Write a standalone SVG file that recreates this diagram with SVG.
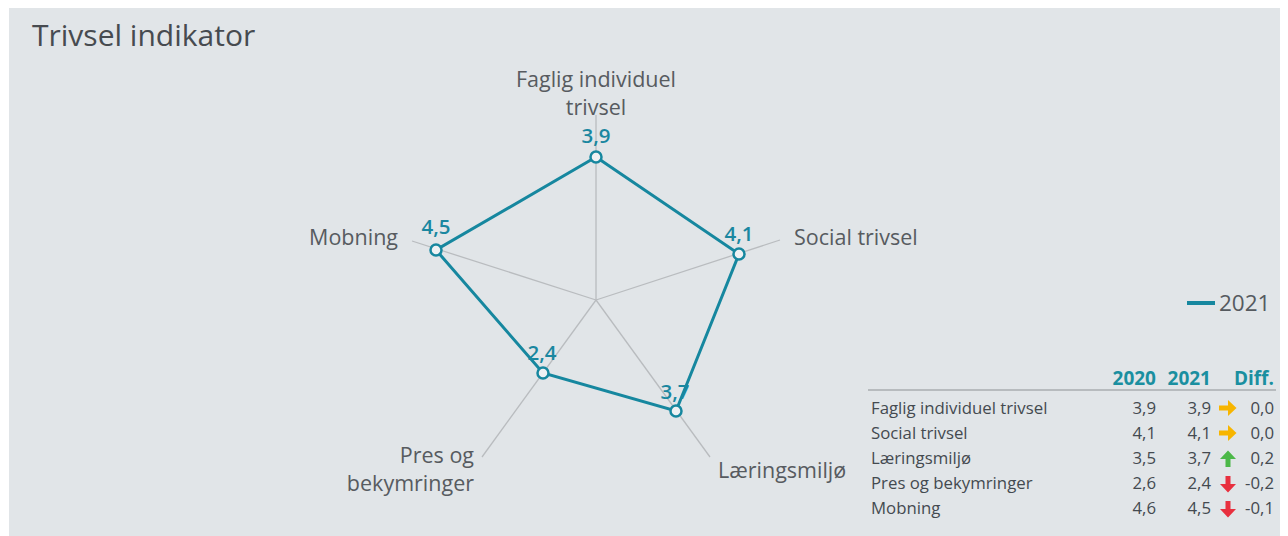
<svg xmlns="http://www.w3.org/2000/svg" width="1288" height="536" viewBox="0 0 1288 536">
<style>
.lbl{font-family:"Open Sans","Noto Sans",sans-serif;font-size:21.5px;fill:#575b60}
.val{font-family:"Open Sans","Noto Sans",sans-serif;font-size:20.5px;fill:#1a87a0;font-weight:600;text-anchor:middle}
.axis{stroke:#b9bcbf;stroke-width:1.3;fill:none}
.pt{fill:#eef1f3;stroke:#16879f;stroke-width:2.5}
.tb{font-family:"Open Sans","Noto Sans",sans-serif;font-size:16.8px;fill:#444a50}
.th{font-family:"Open Sans","Noto Sans",sans-serif;font-size:19px;fill:#1a8fa0;font-weight:700;text-anchor:end}
.num{text-anchor:end}
</style>
<rect x="0" y="0" width="1288" height="536" fill="#ffffff"/>
<rect x="9" y="8" width="1271" height="528" fill="#e1e5e8"/>
<text x="32" y="46" font-family="Open Sans, Noto Sans, sans-serif" font-size="30" fill="#474b50">Trivsel indikator</text>
<g id="axes">
<line class="axis" x1="596" y1="300" x2="596" y2="115"/>
<line class="axis" x1="596" y1="300" x2="780" y2="240"/>
<line class="axis" x1="596" y1="300" x2="710" y2="457"/>
<line class="axis" x1="596" y1="300" x2="482" y2="457"/>
<line class="axis" x1="596" y1="300" x2="412" y2="241"/>
</g>
<g id="connectors">
<polygon points="596,157 739,254 676,411 543,373 436,250" fill="none" stroke="#16879f" stroke-width="3" stroke-linejoin="miter"/>
</g>
<g id="node-faglig">
<text class="lbl" x="596" y="87" text-anchor="middle">Faglig individuel</text>
<text class="lbl" x="596" y="115" text-anchor="middle">trivsel</text>
<circle class="pt" cx="596" cy="157" r="5.5"/>
<text class="val" x="596" y="143">3,9</text>
</g>
<g id="node-social">
<text class="lbl" x="794" y="245">Social trivsel</text>
<circle class="pt" cx="739" cy="254" r="5.5"/>
<text class="val" x="739" y="241">4,1</text>
</g>
<g id="node-laering">
<text class="lbl" x="718" y="478">Læringsmiljø</text>
<circle class="pt" cx="676" cy="411" r="5.5"/>
<text class="val" x="675" y="399">3,7</text>
</g>
<g id="node-pres">
<text class="lbl" x="474" y="463" text-anchor="end">Pres og</text>
<text class="lbl" x="474" y="491" text-anchor="end">bekymringer</text>
<circle class="pt" cx="543" cy="373" r="5.5"/>
<text class="val" x="542" y="360">2,4</text>
</g>
<g id="node-mobning">
<text class="lbl" x="398" y="245" text-anchor="end">Mobning</text>
<circle class="pt" cx="436" cy="250" r="5.5"/>
<text class="val" x="436" y="234">4,5</text>
</g>
<g id="legend">
<line x1="1187" y1="303" x2="1215" y2="303" stroke="#16879f" stroke-width="4"/>
<text x="1219" y="311" font-family="Open Sans, Noto Sans, sans-serif" font-size="22.5" fill="#555a5f">2021</text>
</g>
<g id="table">
<text class="th" x="1156" y="385">2020</text>
<text class="th" x="1211" y="385">2021</text>
<text class="th" x="1274" y="385">Diff.</text>
<line x1="868" y1="390" x2="1276" y2="390" stroke="#a9adb1" stroke-width="1.3"/>
<g class="tb">
<text x="871" y="414">Faglig individuel trivsel</text>
<text x="871" y="439">Social trivsel</text>
<text x="871" y="464">Læringsmiljø</text>
<text x="871" y="489">Pres og bekymringer</text>
<text x="871" y="514">Mobning</text>
<text class="num" x="1156" y="414">3,9</text>
<text class="num" x="1156" y="439">4,1</text>
<text class="num" x="1156" y="464">3,5</text>
<text class="num" x="1156" y="489">2,6</text>
<text class="num" x="1156" y="514">4,6</text>
<text class="num" x="1211" y="414">3,9</text>
<text class="num" x="1211" y="439">4,1</text>
<text class="num" x="1211" y="464">3,7</text>
<text class="num" x="1211" y="489">2,4</text>
<text class="num" x="1211" y="514">4,5</text>
<text class="num" x="1274" y="414">0,0</text>
<text class="num" x="1274" y="439">0,0</text>
<text class="num" x="1274" y="464">0,2</text>
<text class="num" x="1274" y="489">-0,2</text>
<text class="num" x="1274" y="514">-0,1</text>
</g>
<path d="M1219,405.5 h9 v-5.5 l8.5,8 l-8.5,8 v-5.5 h-9 z" fill="#f7b500"/>
<path d="M1219,430.5 h9 v-5.5 l8.5,8 l-8.5,8 v-5.5 h-9 z" fill="#f7b500"/>
<path d="M1225.5,467 v-8 h-5.5 l8,-8.5 l8,8.5 h-5.5 v8 z" fill="#4cb849"/>
<path d="M1225.5,476 v8 h-5.5 l8,8.5 l8,-8.5 h-5.5 v-8 z" fill="#e8303f"/>
<path d="M1225.5,501 v8 h-5.5 l8,8.5 l8,-8.5 h-5.5 v-8 z" fill="#e8303f"/>
</g>
</svg>
